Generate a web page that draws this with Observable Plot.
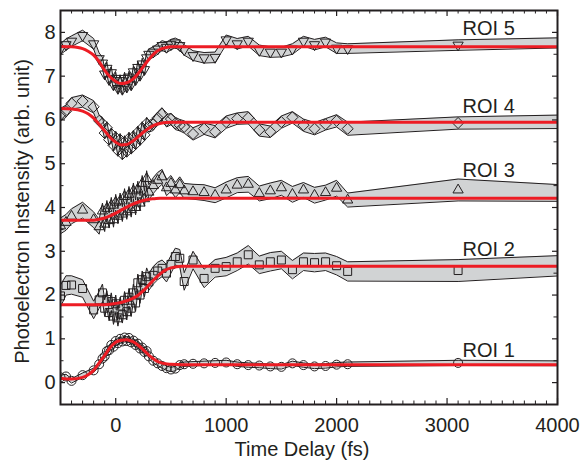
<!DOCTYPE html>
<html><head><meta charset="utf-8">
<script src="https://cdn.jsdelivr.net/npm/d3@7"></script>
<script src="https://cdn.jsdelivr.net/npm/@observablehq/plot@0.6"></script>
<style>body{margin:0;background:#fff} #chart{width:582px;height:460px}</style>
</head><body><div id="chart"></div>
<script>
// ---- data ----
const tDelay = [-500,-450,-400,-300,-200,-150,
  -120,-100,-80,-60,-40,-20,0,20,40,60,80,100,120,140,160,180,200,220,240,260,280,300,
  340,380,420,460,500,540,580,620,
  700,800,900,1000,1100,1200,1300,1400,1500,1600,1700,1800,1900,2000,2100,
  3100,5100];

const roi5 = [7.62,7.72,7.80,7.93,7.74,7.40,
  7.30,7.05,7.18,6.92,7.08,6.80,6.95,6.72,6.90,6.70,6.95,6.75,6.98,6.80,7.10,6.92,7.20,7.02,7.28,7.15,7.42,7.50,
  7.55,7.62,7.70,7.66,7.72,7.76,7.70,7.60,
  7.47,7.42,7.43,7.83,7.74,7.80,7.59,7.55,7.55,7.62,7.80,7.72,7.78,7.64,7.63,
  7.71,7.82];
const err5 = [0.12,0.13,0.12,0.12,0.12,0.13,
  0.13,0.12,0.14,0.12,0.13,0.12,0.14,0.12,0.13,0.12,0.14,0.12,0.13,0.12,0.13,0.12,0.14,0.12,0.13,0.12,0.12,0.12,
  0.12,0.12,0.11,0.12,0.12,0.11,0.12,0.12,
  0.11,0.12,0.12,0.11,0.12,0.11,0.12,0.12,0.11,0.12,0.11,0.12,0.11,0.12,0.11,
  0.12,0.11];

const roi4 = [6.12,6.20,6.38,6.43,6.30,5.98,
  5.92,5.70,5.82,5.55,5.68,5.42,5.60,5.30,5.55,5.22,5.50,5.28,5.58,5.35,5.62,5.45,5.72,5.55,5.82,5.66,5.92,5.85,
  5.90,6.05,6.14,5.98,6.02,5.92,5.88,5.84,
  5.68,5.80,5.73,5.95,6.03,6.05,5.77,5.73,5.95,6.06,5.88,5.80,5.90,5.98,5.80,
  5.93,5.99];
const err4 = [0.14,0.14,0.13,0.14,0.14,0.13,
  0.14,0.13,0.14,0.13,0.14,0.13,0.14,0.13,0.14,0.13,0.14,0.13,0.14,0.13,0.14,0.13,0.14,0.13,0.14,0.13,0.14,0.13,
  0.14,0.13,0.14,0.14,0.13,0.14,0.13,0.14,
  0.14,0.13,0.14,0.14,0.13,0.14,0.14,0.13,0.14,0.13,0.14,0.14,0.13,0.14,0.15,
  0.14,0.17];

const roi3 = [3.58,3.66,3.80,3.94,3.72,3.56,
  3.92,3.62,3.98,3.70,4.05,3.72,4.12,3.80,4.15,3.85,4.25,3.90,4.30,3.95,4.38,4.00,4.42,4.10,4.55,4.20,4.66,4.35,
  4.50,4.62,4.70,4.45,4.55,4.40,4.52,4.38,
  4.36,4.34,4.28,4.40,4.51,4.53,4.32,4.38,4.45,4.30,4.40,4.28,4.34,4.44,4.17,
  4.40,4.25];
const err3 = [0.18,0.18,0.17,0.18,0.18,0.17,
  0.18,0.17,0.18,0.17,0.18,0.17,0.18,0.17,0.18,0.17,0.18,0.17,0.18,0.17,0.18,0.17,0.18,0.17,0.18,0.17,0.18,0.17,
  0.18,0.18,0.17,0.18,0.18,0.17,0.18,0.17,
  0.17,0.18,0.17,0.18,0.17,0.18,0.17,0.18,0.17,0.18,0.17,0.18,0.17,0.18,0.16,
  0.25,0.12];

const roi2 = [1.98,2.22,2.23,2.15,1.66,1.89,
  2.05,1.70,1.90,1.60,1.85,1.52,1.80,1.48,1.75,1.55,1.88,1.62,1.95,1.70,2.05,1.82,2.28,2.00,2.35,2.15,2.42,2.30,
  2.45,2.55,2.61,2.50,2.70,2.88,2.84,2.31,
  2.80,2.38,2.61,2.65,2.76,2.92,2.69,2.76,2.80,2.58,2.76,2.74,2.76,2.67,2.54,
  2.56,2.80];
const err2 = [0.25,0.22,0.21,0.20,0.20,0.19,
  0.20,0.19,0.20,0.19,0.20,0.19,0.20,0.19,0.20,0.19,0.20,0.19,0.20,0.19,0.20,0.19,0.20,0.19,0.20,0.19,0.20,0.19,
  0.20,0.20,0.19,0.20,0.20,0.19,0.20,0.20,
  0.20,0.21,0.20,0.21,0.20,0.21,0.20,0.21,0.20,0.21,0.20,0.21,0.20,0.21,0.22,
  0.25,0.21];

const roi1 = [0.12,0.14,0.04,0.17,0.28,0.42,
  0.55,0.60,0.72,0.74,0.86,0.82,0.95,0.90,1.00,0.94,1.03,0.95,1.02,0.92,0.96,0.86,0.89,0.78,0.80,0.70,0.72,0.60,
  0.50,0.44,0.38,0.33,0.30,0.32,0.40,0.42,
  0.43,0.44,0.45,0.46,0.42,0.40,0.39,0.37,0.36,0.44,0.40,0.37,0.38,0.41,0.42,
  0.45,0.43];
const err1 = [0.05,0.05,0.05,0.05,0.05,0.05,
  0.05,0.05,0.05,0.05,0.05,0.05,0.05,0.05,0.05,0.05,0.05,0.05,0.05,0.05,0.05,0.05,0.05,0.05,0.05,0.05,0.05,0.05,
  0.05,0.05,0.05,0.05,0.05,0.05,0.05,0.05,
  0.05,0.05,0.05,0.05,0.05,0.05,0.05,0.05,0.05,0.05,0.05,0.05,0.05,0.05,0.05,
  0.06,0.05];

// fitted curves
const fitT = [-500,-400,-300,-250,-200,-150,-100,-50,0,50,100,150,200,250,300,350,400,450,500,600,4000];
const fit5 = [7.68,7.67,7.63,7.57,7.48,7.33,7.13,6.98,6.88,6.83,6.85,6.92,7.05,7.22,7.38,7.52,7.61,7.65,7.67,7.67,7.67];
const fit4 = [6.26,6.25,6.20,6.14,6.04,5.90,5.75,5.60,5.49,5.43,5.44,5.51,5.61,5.72,5.81,5.88,5.92,5.94,5.95,5.95,5.95];
const fit3 = [3.71,3.71,3.71,3.71,3.71,3.73,3.76,3.81,3.87,3.94,4.01,4.07,4.12,4.16,4.19,4.20,4.21,4.21,4.21,4.21,4.21];
const fit2 = [1.78,1.78,1.78,1.78,1.78,1.78,1.78,1.79,1.81,1.83,1.87,1.92,1.99,2.10,2.23,2.36,2.48,2.57,2.62,2.66,2.66];
const fit1 = [0.10,0.08,0.12,0.18,0.28,0.45,0.62,0.80,0.92,0.97,0.98,0.94,0.86,0.75,0.63,0.53,0.46,0.43,0.42,0.41,0.41];

const roiNames = ["ROI 1","ROI 2","ROI 3","ROI 4","ROI 5"];
const labelT = [3140,3140,3140,3140,3140];
const labelV = [0.58,2.89,4.70,6.16,7.95];

const xTicks = [0,1000,2000,3000,4000];
const yTicks = [0,1,2,3,4,5,6,7,8];
const xLabel = "Time Delay (fs)";
const yLabel = "Photoelectron Instensity (arb. unit)";

// ---- styling ----
const sqrt3 = Math.sqrt(3);
const triDown = {draw(ctx, size) {
  const y = -Math.sqrt(size / (sqrt3 * 3));
  ctx.moveTo(0, -y * 2);
  ctx.lineTo(-sqrt3 * y, y);
  ctx.lineTo(sqrt3 * y, y);
  ctx.closePath();
}};
const series = [
  {v: roi1, e: err1, fit: fit1, symbol: "circle", r: 4.5},
  {v: roi2, e: err2, fit: fit2, symbol: "square", r: 4.5},
  {v: roi3, e: err3, fit: fit3, symbol: "triangle", r: 3.8},
  {v: roi4, e: err4, fit: fit4, symbol: "diamond2", r: 5},
  {v: roi5, e: err5, fit: fit5, symbol: triDown, r: 3.8}
];
const ink = "#231f20";
const bandFill = "#d1d3d4";
const red = "#ed1c24";
const font = "'Liberation Sans', Arial, sans-serif";

const frameW = 582 - 60 - 25, frameH = 460 - 10 - 56;
const xMinor = d3.range(-400, 4000, 100).filter(d => d % 1000 !== 0);
const yMinor = d3.range(-0.5, 8.5, 1);

const marks = [];
for (const s of series) {
  const rows = tDelay.map((t, i) => ({t, v: s.v[i], lo: s.v[i] - s.e[i], hi: s.v[i] + s.e[i]}));
  const fitRows = fitT.map((t, i) => ({t, v: s.fit[i]}));
  marks.push(
    Plot.areaY(rows, {x: "t", y1: "lo", y2: "hi", fill: bandFill, clip: true}),
    Plot.lineY(rows, {x: "t", y: "hi", stroke: ink, strokeWidth: 1, clip: true}),
    Plot.lineY(rows, {x: "t", y: "lo", stroke: ink, strokeWidth: 1, clip: true}),
    Plot.dot(rows, {x: "t", y: "v", symbol: s.symbol, r: s.r, stroke: ink, strokeWidth: 1, fill: "none", clip: true}),
    Plot.line(fitRows, {x: "t", y: "v", stroke: red, strokeWidth: 3, curve: "monotone-x", clip: true})
  );
}

const chart = Plot.plot({
  width: 582, height: 460,
  marginLeft: 60, marginRight: 25, marginTop: 10, marginBottom: 56,
  style: {fontFamily: font, fontSize: "20px", color: ink, background: "#fff"},
  x: {domain: [-500, 4000]},
  y: {domain: [-0.5, 8.5]},
  marks: [
    ...marks,
    Plot.text(roiNames, {x: labelT, y: labelV, text: d => d, textAnchor: "start", lineAnchor: "bottom", fontSize: 20, fill: ink}),
    // inward ticks
    Plot.ruleX(xTicks, {insetTop: frameH - 6, stroke: ink, strokeWidth: 1.2}),
    Plot.ruleX(xTicks, {insetBottom: frameH - 6, stroke: ink, strokeWidth: 1.2}),
    Plot.ruleX(xMinor, {insetTop: frameH - 3.5, stroke: ink, strokeWidth: 1}),
    Plot.ruleX(xMinor, {insetBottom: frameH - 3.5, stroke: ink, strokeWidth: 1}),
    Plot.ruleY(yTicks, {insetRight: frameW - 5, stroke: ink, strokeWidth: 1.2}),
    Plot.ruleY(yTicks, {insetLeft: frameW - 5, stroke: ink, strokeWidth: 1.2}),
    Plot.ruleY(yMinor, {insetRight: frameW - 3.5, stroke: ink, strokeWidth: 1}),
    Plot.ruleY(yMinor, {insetLeft: frameW - 3.5, stroke: ink, strokeWidth: 1}),
    Plot.axisX({ticks: xTicks, tickSize: 0, tickPadding: 13, tickFormat: d => String(d), label: null, fontSize: 20}),
    Plot.axisY({ticks: yTicks, tickSize: 0, tickPadding: 5, tickFormat: d => String(d), label: null, fontSize: 20}),
    Plot.text([xLabel], {frameAnchor: "bottom", textAnchor: "middle", dx: -7, dy: 51, lineAnchor: "bottom", text: d => d, fontSize: 20, fill: ink}),
    Plot.text([yLabel], {frameAnchor: "left", textAnchor: "middle", dx: -38, dy: 4, rotate: -90, lineAnchor: "middle", text: d => d, fontSize: 20, fill: ink}),
    Plot.frame({stroke: ink, strokeWidth: 2})
  ]
});
document.getElementById("chart").append(chart);
</script>
</body></html>
